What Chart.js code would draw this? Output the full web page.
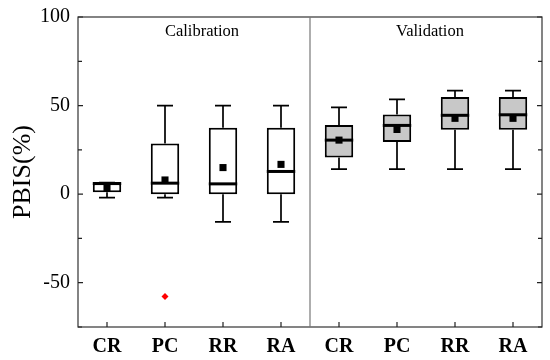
<!DOCTYPE html>
<html>
<head>
<meta charset="utf-8">
<script src="https://cdn.jsdelivr.net/npm/chart.js@4"></script>
<style>
  body { margin: 0; background: #fff; }
  #wrap { width: 550px; height: 360px; }
</style>
</head>
<body>
<div id="wrap"><canvas id="boxChart"></canvas></div>
<script>
// categories: 4 calibration runs then 4 validation runs
const categories = ['CR', 'PC', 'RR', 'RA', 'CR', 'PC', 'RR', 'RA'];
const groups = ['Calibration', 'Validation'];

// box plot stats (PBIS %)
const whiskerLow = [-2, -2, -15.6, -15.6, 14.1, 14.1, 14.1, 14.1];
const q1 = [1, 0, 0, 0, 20.7, 29.4, 36.3, 36.3];
const medians = [6, 6.2, 5.8, 12.8, 30.5, 38.8, 44.5, 44.8];
const q3 = [6.2, 28.6, 37.5, 37.5, 39, 45, 54.8, 54.8];
const whiskerHigh = [6.5, 50, 50, 50, 49, 53.5, 58.4, 58.4];
const means = [3.4, 8, 15, 16.8, 30.5, 36.5, 42.8, 42.8];
const outliers = [null, -57.8, null, null, null, null, null, null];

const yTicks = [-75, -50, -25, 0, 25, 50, 75, 100];

const serif = '"Liberation Serif", "Times New Roman", serif';
const boxFill = categories.map((c, i) => i < 4 ? '#ffffff' : '#c8c8c8');

const boxExtras = {
    id: 'boxExtras',
    afterDatasetDraw(chart, args) {
        if (args.meta.type !== 'bar') return;
        const ctx = chart.ctx;
        const y = chart.scales.y;
        ctx.save();
        ctx.strokeStyle = '#000';
        args.meta.data.forEach((bar, i) => {
            const x = bar.x;
            const half = bar.width / 2;
            const cap = 8;
            ctx.lineWidth = 1.7;
            ctx.beginPath();
            ctx.moveTo(x, y.getPixelForValue(q3[i]));
            ctx.lineTo(x, y.getPixelForValue(whiskerHigh[i]));
            ctx.moveTo(x - cap, y.getPixelForValue(whiskerHigh[i]));
            ctx.lineTo(x + cap, y.getPixelForValue(whiskerHigh[i]));
            ctx.moveTo(x, y.getPixelForValue(q1[i]));
            ctx.lineTo(x, y.getPixelForValue(whiskerLow[i]));
            ctx.moveTo(x - cap, y.getPixelForValue(whiskerLow[i]));
            ctx.lineTo(x + cap, y.getPixelForValue(whiskerLow[i]));
            ctx.stroke();
            ctx.lineWidth = 3;
            ctx.beginPath();
            ctx.moveTo(x - half, y.getPixelForValue(medians[i]));
            ctx.lineTo(x + half, y.getPixelForValue(medians[i]));
            ctx.stroke();
        });
        ctx.restore();
    },
    afterDraw(chart) {
        const ctx = chart.ctx;
        const a = chart.chartArea;
        const x = chart.scales.x;
        const y = chart.scales.y;
        ctx.save();
        // frame
        ctx.strokeStyle = '#333';
        ctx.lineWidth = 1.2;
        ctx.strokeRect(a.left, a.top, a.right - a.left, a.bottom - a.top);
        // divider between groups
        const mid = (x.getPixelForValue(3) + x.getPixelForValue(4)) / 2;
        ctx.strokeStyle = '#777';
        ctx.beginPath();
        ctx.moveTo(mid, a.top);
        ctx.lineTo(mid, a.bottom);
        ctx.stroke();
        // inward ticks
        ctx.strokeStyle = '#222';
        ctx.beginPath();
        yTicks.forEach(v => {
            const py = y.getPixelForValue(v);
            const len = v % 50 === 0 ? 5 : 4;
            ctx.moveTo(a.left, py); ctx.lineTo(a.left + len, py);
            ctx.moveTo(a.right, py); ctx.lineTo(a.right - len, py);
        });
        categories.forEach((c, i) => {
            const px = x.getPixelForValue(i);
            ctx.moveTo(px, a.bottom); ctx.lineTo(px, a.bottom - 5);
        });
        ctx.stroke();
        // group titles
        ctx.fillStyle = '#000';
        ctx.font = '16.5px ' + serif;
        ctx.textAlign = 'center';
        ctx.textBaseline = 'middle';
        const c1 = (x.getPixelForValue(0) + x.getPixelForValue(3)) / 2 + 8;
        const c2 = (x.getPixelForValue(4) + x.getPixelForValue(7)) / 2 + 4;
        ctx.fillText(groups[0], c1, a.top + 15);
        ctx.fillText(groups[1], c2, a.top + 15);
        ctx.restore();
    }
};

new Chart(document.getElementById('boxChart'), {
    data: {
        labels: categories,
        datasets: [
            {
                type: 'line',
                label: 'Mean',
                data: means,
                showLine: false,
                pointStyle: 'rect',
                pointRadius: 5,
                pointBackgroundColor: '#000',
                pointBorderWidth: 0,
                order: 0
            },
            {
                type: 'line',
                label: 'Outlier',
                data: outliers,
                showLine: false,
                pointStyle: 'rectRot',
                pointRadius: 3.5,
                pointBackgroundColor: '#ff0000',
                pointBorderWidth: 0,
                order: 1
            },
            {
                type: 'bar',
                label: 'Box',
                data: q1.map((v, i) => [v, q3[i]]),
                backgroundColor: boxFill,
                borderColor: '#000',
                borderWidth: 2,
                borderSkipped: false,
                barPercentage: 0.49,
                categoryPercentage: 1,
                order: 2
            }
        ]
    },
    options: {
        responsive: true,
        maintainAspectRatio: false,
        animation: false,
        events: [],
        layout: { padding: { top: 17, right: 8, left: 0, bottom: 0 } },
        plugins: {
            legend: { display: false },
            tooltip: { enabled: false }
        },
        scales: {
            x: {
                grid: { display: false },
                border: { display: false },
                ticks: {
                    color: '#000',
                    padding: 0,
                    font: { family: serif, size: 20, weight: 'bold' }
                },
                afterFit(scale) { scale.height = 33; }
            },
            y: {
                min: -75,
                max: 100,
                grid: { display: false },
                border: { display: false },
                afterBuildTicks(scale) { scale.ticks = yTicks.map(v => ({ value: v })); },
                ticks: {
                    color: '#000',
                    padding: 0,
                    font: { family: serif, size: 20 },
                    callback: v => v % 50 === 0 ? v : ''
                },
                title: {
                    display: true,
                    text: 'PBIS(%)',
                    color: '#000',
                    padding: { top: 8, bottom: 2 },
                    font: { family: serif, size: 26 }
                },
                afterFit(scale) { scale.width = 78; }
            }
        }
    },
    plugins: [boxExtras]
});
</script>
</body>
</html>
